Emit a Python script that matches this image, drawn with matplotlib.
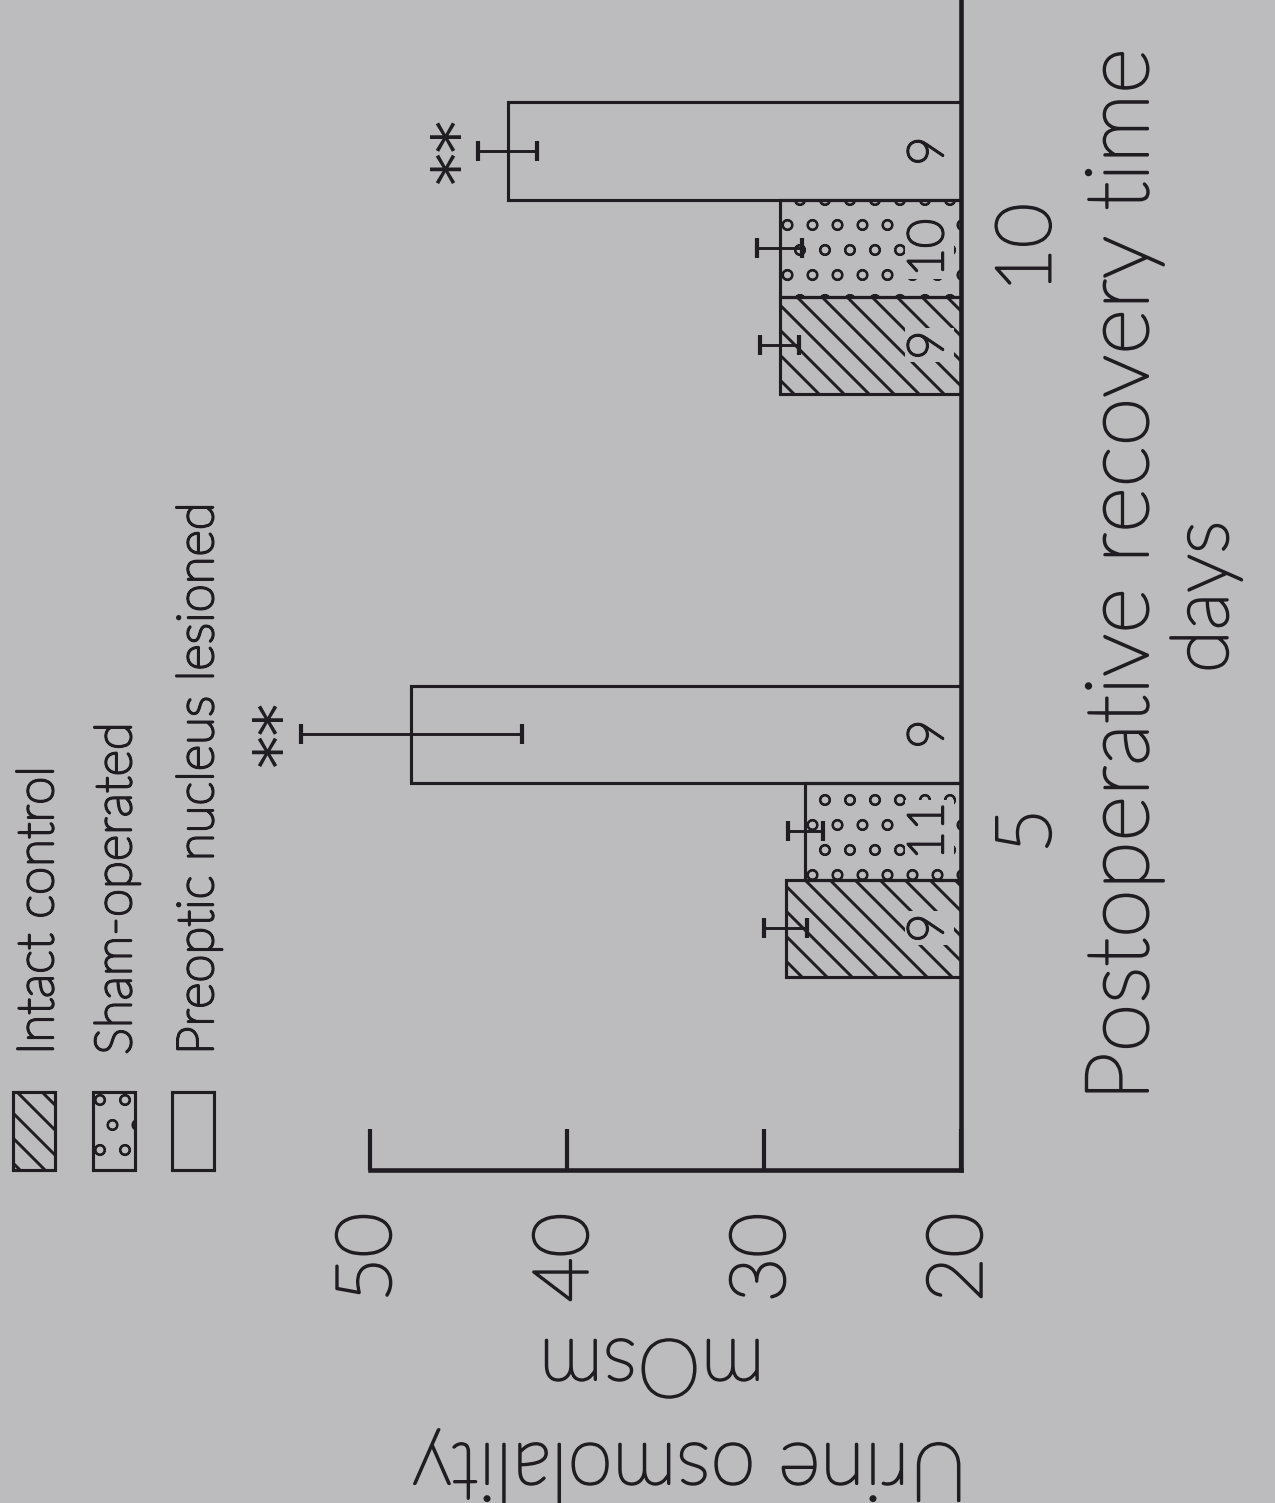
import matplotlib
matplotlib.use("Agg")
import matplotlib.pyplot as plt
import matplotlib.patheffects as pe
from matplotlib.patches import Rectangle

# Urine osmolality (mOsm) after surgery, mean ± SEM, n per group
days = [5, 10]
groups = ["Intact control", "Sham-operated", "Preoptic nucleus lesioned"]
intact_mean = [28.9, 29.2]
intact_sem = [1.1, 1.0]
intact_n = [9, 9]
sham_mean = [27.9, 29.2]
sham_sem = [0.9, 1.15]
sham_n = [11, 10]
lesion_mean = [47.9, 43.0]
lesion_sem = [5.6, 1.5]
lesion_n = [9, 9]
lesion_marks = ["**", "**"]
value_ticks = [20, 30, 40, 50]
day_labels = ["5", "10"]

BG = "#bcbbbe"
INK = "#1f1d22"
DPI = 150
W, H = 1275, 1503

plt.rcParams["font.family"] = ["Lato", "DejaVu Sans"]
plt.rcParams["font.weight"] = "light"
plt.rcParams["hatch.linewidth"] = 1.4
plt.rcParams["hatch.color"] = INK

# thin lettering drawn with a slight outline to give an even pen stroke
pen = [pe.withStroke(linewidth=1.2, foreground=INK)]

fig = plt.figure(figsize=(W / DPI, H / DPI), dpi=DPI, facecolor=BG)
ax = fig.add_axes([240 / W, (H - 1170) / H, (961 - 240) / W, 1170 / H])
ax.set_facecolor("none")
ax.set_xlim(56.6, 20)
ax.set_ylim(2.093, 12.127)

bw = 0.832
base = 20
series = [
    (intact_mean, intact_sem, intact_n, -bw, "\\\\"),
    (sham_mean, sham_sem, sham_n, 0.0, "o"),
    (lesion_mean, lesion_sem, lesion_n, bw, None),
]

def set_hatch_lw(patch, lw):
    try:
        patch.set_hatch_linewidth(lw)
    except AttributeError:
        pass

for means, sems, ns, off, hatch in series:
    pos = [d + off for d in days]
    widths = [m - base for m in means]
    bars = ax.barh(pos, widths, left=base, height=bw, facecolor="none",
                   edgecolor=INK, linewidth=1.5, hatch=hatch, zorder=2)
    for b in bars:
        set_hatch_lw(b, 1.4 if hatch == "\\\\" else 1.0)
    ax.errorbar(means, pos, xerr=sems, fmt="none", ecolor=INK,
                elinewidth=1.4, capsize=5, capthick=2, zorder=3)
    for p, n in zip(pos, ns):
        ax.text(21.6, p, str(n), rotation=90, ha="center", va="center",
                fontsize=24, color=INK, zorder=4, path_effects=pen,
                bbox=dict(facecolor=BG, edgecolor="none", pad=1.0))

# significance marks beyond the lesioned bars' error bars
for m, s, d, mark in zip(lesion_mean, lesion_sem, days, lesion_marks):
    ax.annotate(mark, xy=(m + s, d + bw), xytext=(-9, 0),
                textcoords="offset points", rotation=90, ha="center",
                va="center", fontsize=32, color=INK, fontweight="normal",
                family=["DejaVu Sans"], annotation_clip=False)

# axes frame
for side in ("left", "top"):
    ax.spines[side].set_visible(False)
ax.spines["right"].set_linewidth(2.2)
ax.spines["right"].set_color(INK)
ax.spines["bottom"].set_linewidth(2.2)
ax.spines["bottom"].set_color(INK)
ax.spines["bottom"].set_bounds(20, 50)
ax.set_yticks([])
ax.set_xticks(value_ticks)
ax.tick_params(axis="x", direction="in", length=19.7, width=2, color=INK,
               labelbottom=False)

for v in value_ticks:
    ax.annotate(str(v), xy=(v, 0), xycoords=("data", "axes fraction"),
                xytext=(0, -42), textcoords="offset points", rotation=90,
                ha="center", va="center", fontsize=37, color=INK,
                path_effects=pen, annotation_clip=False)

for d, lab in zip(days, day_labels):
    ax.annotate(lab, xy=(1, d), xycoords=("axes fraction", "data"),
                xytext=(33, 0), textcoords="offset points", rotation=90,
                ha="center", va="center", fontsize=37, color=INK,
                path_effects=pen, annotation_clip=False)

# axis titles
fig.text(1124 / W, 1 - 575 / H, "Postoperative recovery time", rotation=90,
         ha="center", va="center", fontsize=42.3, color=INK, path_effects=pen)
fig.text(1206 / W, 1 - 597 / H, "days", rotation=90,
         ha="center", va="center", fontsize=38, color=INK, path_effects=pen)
fig.text(690 / W, 1 - 1466 / H, "Urine osmolality", rotation=180,
         ha="center", va="center", fontsize=39, color=INK, path_effects=pen)
fig.text(652 / W, 1 - 1362 / H, "mOsm", rotation=180,
         ha="center", va="center", fontsize=39, color=INK, path_effects=pen)

# legend key
key_x = [13, 93, 172]
key_hatch = ["\\\\", "o", None]
text_base = [53, 131, 213]
for kx, kh, tb, label in zip(key_x, key_hatch, text_base, groups):
    r = Rectangle((kx / W, 1 - 1170 / H), 42 / W, 78 / H,
                  transform=fig.transFigure, facecolor="none",
                  edgecolor=INK, linewidth=1.5, hatch=kh)
    set_hatch_lw(r, 1.4 if kh == "\\\\" else 1.0)
    fig.add_artist(r)
    fig.text(tb / W, 1 - 1055 / H, label, rotation=90, rotation_mode="anchor",
             ha="left", va="baseline", fontsize=24.5, color=INK,
             path_effects=pen)

fig.savefig("out.png", dpi=DPI, facecolor=BG)
